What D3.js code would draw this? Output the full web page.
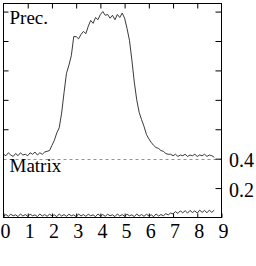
<!DOCTYPE html>
<html><head><meta charset="utf-8">
<script src="https://cdn.jsdelivr.net/npm/d3@7"></script>
<style>body{margin:0;background:#fff}svg{display:block}</style>
</head><body>
<script>
const xs = [0.0,0.1,0.2,0.3,0.4,0.5,0.6,0.7,0.8,0.9,1.0,1.1,1.2,1.3,1.4,1.5,1.6,1.7,1.8,1.9,
2.0,2.1,2.2,2.3,2.4,2.5,2.6,2.7,2.8,2.9,3.0,3.1,3.2,3.3,3.4,3.5,3.6,3.7,3.8,3.9,
4.0,4.1,4.2,4.3,4.4,4.5,4.6,4.7,4.8,4.9,5.0,5.1,5.2,5.3,5.4,5.5,5.6,5.7,5.8,5.9,
6.0,6.1,6.2,6.3,6.4,6.5,6.6,6.7,6.8,6.9,7.0,7.1,7.2,7.3,7.4,7.5,7.6,7.7,7.8,7.9,
8.0,8.1,8.2,8.3,8.4,8.5,8.6,8.7];
const precision = [0.43,0.42,0.44,0.425,0.415,0.435,0.42,0.44,0.425,0.43,0.42,0.44,0.43,0.445,0.425,0.44,0.43,0.445,0.45,0.455,
0.49,0.525,0.575,0.61,0.71,0.85,0.98,1.035,1.10,1.23,1.23,1.215,1.245,1.265,1.25,1.30,1.34,1.32,1.36,1.345,
1.38,1.40,1.375,1.38,1.355,1.375,1.345,1.38,1.36,1.39,1.355,1.285,1.205,1.07,0.92,0.80,0.715,0.665,0.62,0.565,
0.535,0.51,0.49,0.475,0.47,0.455,0.45,0.435,0.43,0.43,0.42,0.43,0.415,0.425,0.42,0.43,0.415,0.425,0.42,0.43,
0.415,0.425,0.42,0.43,0.415,0.425,0.42,0.41];
const matrix = [0.01,0.02,0.008,0.022,0.012,0.018,0.006,0.024,0.01,0.02,0.008,0.022,0.012,0.018,0.006,0.024,0.01,0.02,0.008,0.022,
0.012,0.018,0.006,0.024,0.01,0.02,0.008,0.022,0.012,0.018,0.006,0.024,0.01,0.02,0.008,0.022,0.012,0.018,0.006,0.024,
0.01,0.02,0.008,0.022,0.012,0.018,0.006,0.024,0.01,0.02,0.008,0.022,0.012,0.018,0.006,0.024,0.01,0.02,0.008,0.022,
0.012,0.018,0.006,0.024,0.01,0.02,0.012,0.026,0.018,0.03,0.025,0.04,0.028,0.045,0.032,0.046,0.03,0.048,0.034,0.045,
0.03,0.05,0.035,0.048,0.032,0.05,0.035,0.05];
const xTicks = [0,1,2,3,4,5,6,7,8,9];
const rightTicks = [0.2,0.4,0.6,0.8,1.0,1.2,1.4];
const rightLabels = [0.4,0.2];
const leftTicks = [0.6,0.8,1.0,1.2,1.4];
const threshold = 0.4;
const labels = ["Prec.","Matrix"];

(function(){
const W=256,H=266, L=3.5, R=221.5, T=3.5, B=217.5;
const svg=d3.select("body").append("svg").attr("width",W).attr("height",H);
const x=d3.scaleLinear().domain([0,9]).range([L,R]);
const y=d3.scaleLinear().domain([0,1.455]).range([B,T]);
const font="'Liberation Serif','Times New Roman',serif";

svg.append("line").attr("x1",L).attr("x2",R).attr("y1",Math.round(y(threshold))+0.5).attr("y2",Math.round(y(threshold))+0.5)
 .attr("stroke","#777").attr("stroke-width",0.8).attr("stroke-dasharray","3,3");

const line=d3.line().x((d,i)=>x(xs[i])).y(d=>y(d));
svg.append("path").datum(precision).attr("d",line).attr("fill","none").attr("stroke","#222").attr("stroke-width",0.9);
svg.append("path").datum(matrix).attr("d",line).attr("fill","none").attr("stroke","#222").attr("stroke-width",0.9);

svg.append("rect").attr("x",L).attr("y",T).attr("width",R-L).attr("height",B-T).attr("fill","none").attr("stroke","#000").attr("stroke-width",1);

const topAx=svg.append("g").attr("transform",`translate(0,${T})`)
 .call(d3.axisBottom(x).tickValues(xTicks.slice(1,-1)).tickSize(5).tickFormat(""));
topAx.select(".domain").remove();
const bot=svg.append("g").attr("transform",`translate(0,${B})`)
 .call(d3.axisBottom(x).tickValues(xTicks).tickSizeInner(-4).tickSizeOuter(0).tickPadding(6));
bot.select(".domain").remove();
bot.selectAll("text").attr("font-family",font).attr("font-size",20).attr("fill","#000").attr("dx",1.5);
const ra=svg.append("g").attr("transform",`translate(${R},0)`)
 .call(d3.axisRight(y).tickValues(rightTicks).tickSizeInner(-6).tickSizeOuter(0).tickPadding(7.5)
   .tickFormat(d=>rightLabels.includes(+d.toFixed(1))?d3.format(".1f")(d):""));
ra.select(".domain").remove();
ra.selectAll("text").attr("font-family",font).attr("font-size",20).attr("fill","#000").attr("dy","0.4em");
const la=svg.append("g").attr("transform",`translate(${L},0)`)
 .call(d3.axisLeft(y).tickValues(leftTicks).tickSizeInner(-5).tickSizeOuter(0).tickFormat(""));
la.select(".domain").remove();

svg.append("text").attr("x",9.5).attr("y",23.5).attr("font-family",font).attr("font-size",19).text(labels[0]);
svg.append("text").attr("x",9.5).attr("y",172).attr("font-family",font).attr("font-size",19).text(labels[1]);
})();
</script>
</body></html>
